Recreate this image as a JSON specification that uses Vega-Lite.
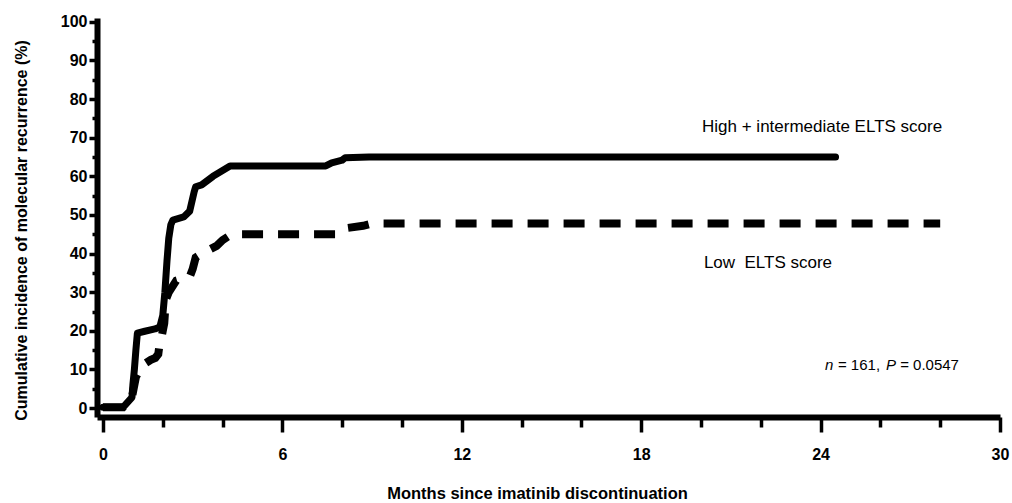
{
  "$schema": "https://vega.github.io/schema/vega-lite/v6.json",
  "autosize": {"type": "none"},
  "width": 903,
  "height": 399,
  "padding": {"left": 97, "top": 18, "right": 12, "bottom": 86},
  "background": "white",
  "config": {"view": {"stroke": null}, "font": "Liberation Sans"},
  "datasets": {
    "high": [
      {"month": 0, "pct": 0.2}, {"month": 0.67, "pct": 0.2}, {"month": 0.97, "pct": 2.8},
      {"month": 1.0, "pct": 6}, {"month": 1.05, "pct": 10}, {"month": 1.1, "pct": 15},
      {"month": 1.15, "pct": 19.4}, {"month": 1.4, "pct": 19.9}, {"month": 1.74, "pct": 20.5},
      {"month": 1.9, "pct": 21}, {"month": 2.0, "pct": 24}, {"month": 2.07, "pct": 30},
      {"month": 2.14, "pct": 38}, {"month": 2.2, "pct": 44}, {"month": 2.27, "pct": 47.5},
      {"month": 2.34, "pct": 48.7}, {"month": 2.7, "pct": 49.5}, {"month": 2.9, "pct": 51},
      {"month": 3.05, "pct": 56}, {"month": 3.1, "pct": 57.3}, {"month": 3.3, "pct": 57.8},
      {"month": 3.68, "pct": 60}, {"month": 4.0, "pct": 61.5}, {"month": 4.25, "pct": 62.7},
      {"month": 7.45, "pct": 62.7}, {"month": 7.65, "pct": 63.5}, {"month": 8.0, "pct": 64.2},
      {"month": 8.1, "pct": 64.8}, {"month": 8.9, "pct": 65}, {"month": 24.5, "pct": 65}
    ],
    "low": [
      {"month": 0, "pct": 0.2}, {"month": 0.67, "pct": 0.2}, {"month": 0.97, "pct": 2.8},
      {"month": 1.1, "pct": 8}, {"month": 1.3, "pct": 11}, {"month": 1.6, "pct": 12.5},
      {"month": 1.75, "pct": 13}, {"month": 1.85, "pct": 14}, {"month": 1.9, "pct": 17},
      {"month": 1.95, "pct": 18}, {"month": 2.0, "pct": 20}, {"month": 2.05, "pct": 22},
      {"month": 2.1, "pct": 28}, {"month": 2.2, "pct": 30}, {"month": 2.45, "pct": 33},
      {"month": 2.9, "pct": 34}, {"month": 3.0, "pct": 36}, {"month": 3.1, "pct": 39},
      {"month": 3.3, "pct": 40}, {"month": 3.8, "pct": 42}, {"month": 4.0, "pct": 43.5},
      {"month": 4.3, "pct": 45}, {"month": 7.8, "pct": 45}, {"month": 8.05, "pct": 46.5},
      {"month": 8.7, "pct": 47.2}, {"month": 9.0, "pct": 47.8}, {"month": 28.0, "pct": 47.8}
    ],
    "labels": [
      {"month": 24.05, "pct": 72.8, "text": "High + intermediate ELTS score"},
      {"month": 22.24, "pct": 37.6, "text": "Low \u00a0ELTS score"}
    ],
    "statItalic": [
      {"month": 24.15, "pct": 11.2, "text": "n"},
      {"month": 26.19, "pct": 11.2, "text": "P"}
    ],
    "statNormal": [
      {"month": 24.58, "pct": 11.2, "text": "= 161,"},
      {"month": 26.66, "pct": 11.2, "text": "= 0.0547"}
    ]
  },
  "resolve": {"axis": {"x": "independent", "y": "independent"}},
  "layer": [
    {
      "data": {"name": "high"},
      "mark": {"type": "line", "color": "black", "strokeWidth": 7, "strokeCap": "round", "strokeJoin": "round"},
      "encoding": {
        "x": {
          "field": "month", "type": "quantitative",
          "scale": {"domain": [-0.2, 30], "nice": false, "zero": false},
          "axis": {
            "orient": "bottom", "values": [0, 6, 12, 18, 24, 30], "grid": false,
            "domainColor": "black", "domainWidth": 6, "tickColor": "black", "tickWidth": 3.5, "tickSize": 15,
            "labelFont": "Liberation Sans", "labelFontWeight": "bold", "labelFontSize": 16, "labelColor": "black",
            "labelPadding": 14, "labelFlush": false,
            "title": "Months since imatinib discontinuation",
            "titleFont": "Liberation Sans", "titleFontWeight": "bold", "titleFontSize": 16.5, "titleColor": "black",
            "titleX": 440, "titleY": 76, "titleAlign": "center", "titleBaseline": "middle", "titleAnchor": null
          }
        },
        "y": {
          "field": "pct", "type": "quantitative",
          "scale": {"domain": [-2.3, 101], "nice": false, "zero": false},
          "axis": {
            "orient": "left", "values": [0, 10, 20, 30, 40, 50, 60, 70, 80, 90, 100], "grid": false,
            "domainColor": "black", "domainWidth": 6, "tickColor": "black", "tickWidth": 3.5, "tickSize": 8,
            "labelFont": "Liberation Sans", "labelFontWeight": "bold", "labelFontSize": 16, "labelColor": "black",
            "labelPadding": 2, "labelFlush": false,
            "title": "Cumulative incidence of molecular recurrence (%)",
            "titleFont": "Liberation Sans", "titleFontWeight": "bold", "titleFontSize": 16, "titleColor": "black",
            "titleX": -76, "titleY": 212, "titleAngle": -90, "titleAlign": "center", "titleBaseline": "middle", "titleAnchor": null
          }
        }
      }
    },
    {
      "data": {"name": "low"},
      "mark": {"type": "line", "color": "black", "strokeWidth": 8, "strokeDash": [21, 15], "strokeCap": "butt"},
      "encoding": {
        "x": {
          "field": "month", "type": "quantitative",
          "axis": {
            "orient": "bottom", "values": [2, 4, 8, 10, 14, 16, 20, 22, 26, 28], "grid": false,
            "domain": false, "labels": false, "title": null,
            "tickColor": "black", "tickWidth": 3.5, "tickSize": 10
          }
        },
        "y": {
          "field": "pct", "type": "quantitative",
          "axis": {
            "orient": "left", "values": [5, 15, 25, 35, 45, 55, 65, 75, 85, 95], "grid": false,
            "domain": false, "labels": false, "title": null,
            "tickColor": "black", "tickWidth": 3.5, "tickSize": 5
          }
        }
      }
    },
    {
      "data": {"name": "labels"},
      "mark": {"type": "text", "font": "Liberation Sans", "fontSize": 17, "color": "black", "align": "center", "baseline": "middle"},
      "encoding": {
        "x": {"field": "month", "type": "quantitative", "axis": null},
        "y": {"field": "pct", "type": "quantitative", "axis": null},
        "text": {"field": "text"}
      }
    },
    {
      "data": {"name": "statItalic"},
      "mark": {"type": "text", "font": "Liberation Sans", "fontSize": 15, "fontStyle": "italic", "color": "black", "align": "left", "baseline": "middle"},
      "encoding": {
        "x": {"field": "month", "type": "quantitative", "axis": null},
        "y": {"field": "pct", "type": "quantitative", "axis": null},
        "text": {"field": "text"}
      }
    },
    {
      "data": {"name": "statNormal"},
      "mark": {"type": "text", "font": "Liberation Sans", "fontSize": 15, "color": "black", "align": "left", "baseline": "middle"},
      "encoding": {
        "x": {"field": "month", "type": "quantitative", "axis": null},
        "y": {"field": "pct", "type": "quantitative", "axis": null},
        "text": {"field": "text"}
      }
    }
  ]
}
